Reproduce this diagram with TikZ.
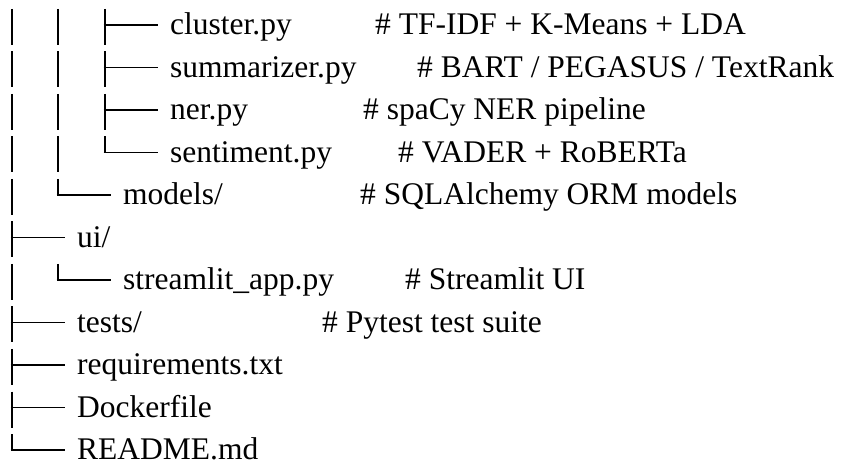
\documentclass[tikz,border=0pt]{standalone}
\usepackage{fontspec}
\setmainfont{Liberation Serif}
\begin{document}
\begin{tikzpicture}[x=1bp,y=-1bp,
  vbar/.style={line width=2.8bp,line cap=butt},
  hbar/.style={line width=1.9bp,line cap=butt},
  lbl/.style={anchor=base west,inner sep=0pt,font=\fontsize{31.5bp}{38bp}\selectfont}]
\useasboundingbox (0,0) rectangle (845,463);
% vertical bars (pipe and tee)
\foreach \x/\r in {12/0,12/1,12/2,12/3,12/4,12/5,12/6,12/7,12/8,12/9,
                   58/0,58/1,58/2,58/3,
                   105/0,105/1,105/2}
  \draw[vbar] ({\x},{35+42.5*\r-26}) -- ({\x},{35+42.5*\r+10});
% corner pieces
\foreach \x/\r in {105/3,58/4,58/6,12/10}
  \draw[vbar] ({\x},{35+42.5*\r-26}) -- ({\x},{35+42.5*\r-9.05});
% branches
\foreach \x/\r in {105/0,105/1,105/2,105/3,58/4,58/6,12/5,12/7,12/8,12/9,12/10}
  \draw[hbar] ({\x-1.4},{35+42.5*\r-10}) -- ({\x+53},{35+42.5*\r-10});
% names
\node[lbl] (n0) at (170,35) {cluster.py};
\node[lbl] (n1) at (170,77.5) {summarizer.py};
\node[lbl] (n2) at (170,120) {ner.py};
\node[lbl] (n3) at (170,162.5) {sentiment.py};
\node[lbl] (n4) at (123,205) {models/};
\node[lbl] (n5) at (77,247.5) {ui/};
\node[lbl] (n6) at (123,290) {streamlit\_app.py};
\node[lbl] (n7) at (77,332.5) {tests/};
\node[lbl] (n8) at (77,375) {requirements.txt};
\node[lbl] (n9) at (77,417.5) {Dockerfile};
\node[lbl] (n10) at (77,459) {README.md};
% comments
\node[lbl] (c0) at (375,35) {\# TF-IDF + K-Means + LDA};
\node[lbl] (c1) at (417,77.5) {\# BART / PEGASUS / TextRank};
\node[lbl] (c2) at (363,120) {\# spaCy NER pipeline};
\node[lbl] (c3) at (398,162.5) {\# VADER + RoBERTa};
\node[lbl] (c4) at (360,205) {\# SQLAlchemy ORM models};
\node[lbl] (c6) at (405,290) {\# Streamlit UI};
\node[lbl] (c7) at (322,332.5) {\# Pytest test suite};
\end{tikzpicture}
\end{document}
